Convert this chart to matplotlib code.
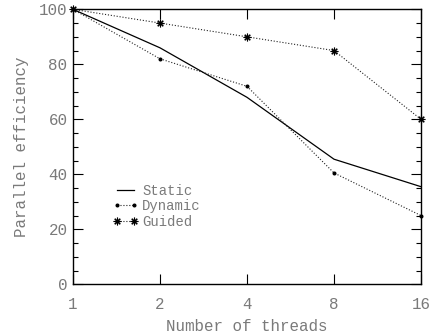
import matplotlib
matplotlib.use("Agg")
import matplotlib.pyplot as plt
from matplotlib.ticker import MultipleLocator, FixedLocator, NullLocator

threads = [1, 2, 4, 8, 16]
static = [100, 86, 68, 45.5, 35.5]
dynamic = [100, 82, 72, 40.5, 25]
guided = [100, 95, 90, 85, 60]

txt = "#7a7a7a"
plt.rcParams["font.family"] = ["Liberation Mono", "DejaVu Sans Mono"]
plt.rcParams["font.size"] = 11.4

fig = plt.figure(figsize=(4.35, 3.33), dpi=100)
ax = fig.add_axes([0.1678, 0.1462, 0.8, 0.8258])

ax.plot(threads, static, "-", color="black", lw=0.9, label="Static", clip_on=False)
ax.plot(threads, dynamic, ":", color="#222222", lw=0.8, marker="o", ms=1.9,
        mec="black", mfc="black", label="Dynamic", clip_on=False)
ax.plot(threads, guided, ":", color="#222222", lw=0.8, marker=(8, 2, 0), ms=5.5,
        mec="black", mew=0.8, label="Guided", clip_on=False)

ax.set_xscale("log", base=2)
ax.set_xlim(1, 16)
ax.set_ylim(0, 100)
ax.xaxis.set_major_locator(FixedLocator(threads))
ax.xaxis.set_minor_locator(NullLocator())
ax.set_xticklabels([str(t) for t in threads])
ax.yaxis.set_major_locator(MultipleLocator(20))
ax.yaxis.set_minor_locator(MultipleLocator(5))

ax.tick_params(which="both", direction="in", top=True, right=True, colors="black",
               labelcolor=txt, width=0.8)
ax.tick_params(which="major", length=7)
ax.tick_params(which="minor", length=3.5)
ax.tick_params(axis="x", pad=9)
ax.tick_params(axis="y", pad=4)
for s in ax.spines.values():
    s.set_linewidth(1.0)

ax.set_xlabel("Number of threads", color=txt, labelpad=5)
ax.set_ylabel("Parallel efficiency", color=txt, labelpad=7)

ax.legend(loc="upper left", bbox_to_anchor=(0.115, 0.365), frameon=False,
          fontsize=10, handlelength=1.8, handletextpad=0.3, labelspacing=0.1,
          borderpad=0, borderaxespad=0, numpoints=2, labelcolor=txt)

plt.savefig("out.png", dpi=100)
